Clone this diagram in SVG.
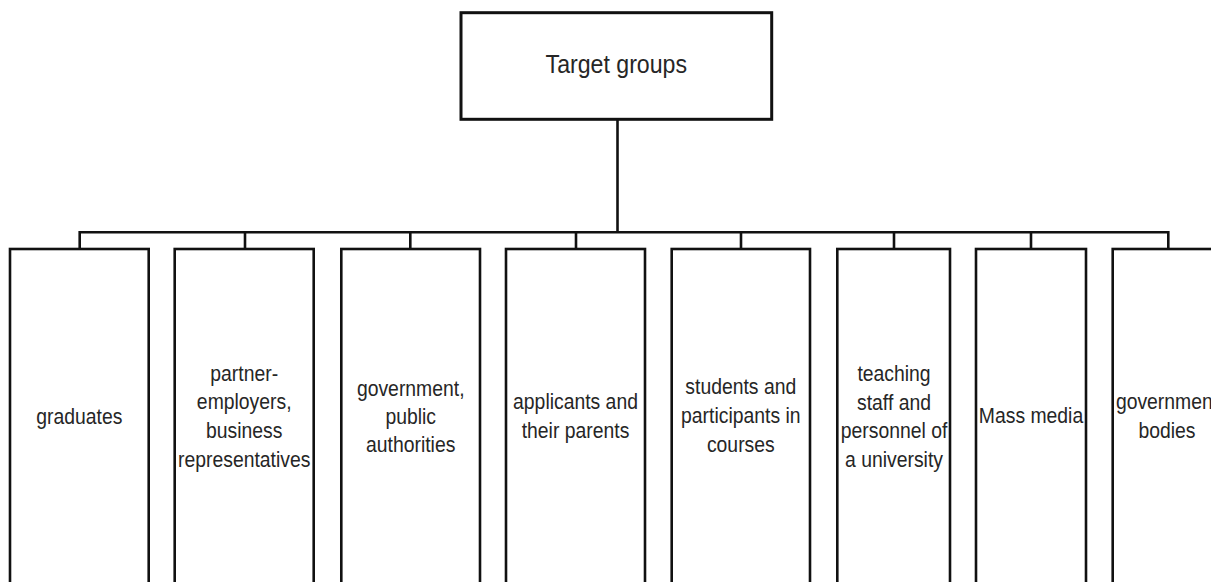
<svg xmlns="http://www.w3.org/2000/svg" width="1211" height="582" viewBox="0 0 1211 582">
  <style>
    .box { fill: #ffffff; stroke: #111111; stroke-width: 2.6; }
    .title { fill: #ffffff; stroke: #111111; stroke-width: 3; }
    .conn { fill: none; stroke: #111111; stroke-width: 2.6; stroke-linecap: butt; }
    text { font-family: "Liberation Sans", Arial, sans-serif; fill: #262626; text-anchor: middle; }
    .t1 { font-size: 26px; }
    .t2 { font-size: 22px; }
  </style>
  <rect x="0" y="0" width="1211" height="582" fill="#ffffff"/>
  <g id="connectors">
    <path class="conn" d="M617.5 119 V232.3"/>
    <path class="conn" d="M79.7 232.3 H1168.3"/>
    <path class="conn" d="M79.7 231 V249 M245 231 V249 M410.3 231 V249 M576 231 V249 M741 231 V249 M894 231 V249 M1031 231 V249 M1168.3 231 V249"/>
  </g>
  <g id="node-target-groups">
    <rect class="title" x="461" y="12.7" width="310.7" height="106.6"/>
    <text class="t1" transform="translate(616.3,0) scale(0.89,1)"><tspan x="0" y="72.7">Target groups</tspan></text>
  </g>
  <g id="node-graduates">
    <rect class="box" x="10" y="249" width="138.7" height="345"/>
    <text class="t2" transform="translate(79.4,0) scale(0.88,1)"><tspan x="0" y="424.5">graduates</tspan></text>
  </g>
  <g id="node-partner-employers">
    <rect class="box" x="174.7" y="249" width="139" height="345"/>
    <text class="t2" transform="translate(244.2,0) scale(0.88,1)"><tspan x="0" y="381.5">partner-</tspan><tspan x="0" y="409.5">employers,</tspan><tspan x="0" y="438">business</tspan><tspan x="0" y="466.7">representatives</tspan></text>
  </g>
  <g id="node-government-public">
    <rect class="box" x="341.3" y="249" width="138.7" height="345"/>
    <text class="t2" transform="translate(410.7,0) scale(0.88,1)"><tspan x="0" y="396">government,</tspan><tspan x="0" y="424.5">public</tspan><tspan x="0" y="452.5">authorities</tspan></text>
  </g>
  <g id="node-applicants">
    <rect class="box" x="506" y="249" width="139" height="345"/>
    <text class="t2" transform="translate(575.5,0) scale(0.88,1)"><tspan x="0" y="409.5">applicants and</tspan><tspan x="0" y="438.5">their parents</tspan></text>
  </g>
  <g id="node-students">
    <rect class="box" x="671.7" y="249" width="138.3" height="345"/>
    <text class="t2" transform="translate(740.8,0) scale(0.88,1)"><tspan x="0" y="394.5">students and</tspan><tspan x="0" y="423.5">participants in</tspan><tspan x="0" y="452">courses</tspan></text>
  </g>
  <g id="node-teaching-staff">
    <rect class="box" x="837.3" y="249" width="112.7" height="345"/>
    <text class="t2" transform="translate(894,0) scale(0.88,1)"><tspan x="0" y="381.5">teaching</tspan><tspan x="0" y="410">staff and</tspan><tspan x="0" y="438.5">personnel of</tspan><tspan x="0" y="466.7">a university</tspan></text>
  </g>
  <g id="node-mass-media">
    <rect class="box" x="976" y="249" width="110" height="345"/>
    <text class="t2" transform="translate(1031,0) scale(0.88,1)"><tspan x="0" y="423.5">Mass media</tspan></text>
  </g>
  <g id="node-government-bodies">
    <rect class="box" x="1112.7" y="249" width="111" height="345"/>
    <text class="t2" transform="translate(1167,0) scale(0.88,1)"><tspan x="0" y="409.5">government</tspan><tspan x="0" y="438.5">bodies</tspan></text>
  </g>
</svg>
